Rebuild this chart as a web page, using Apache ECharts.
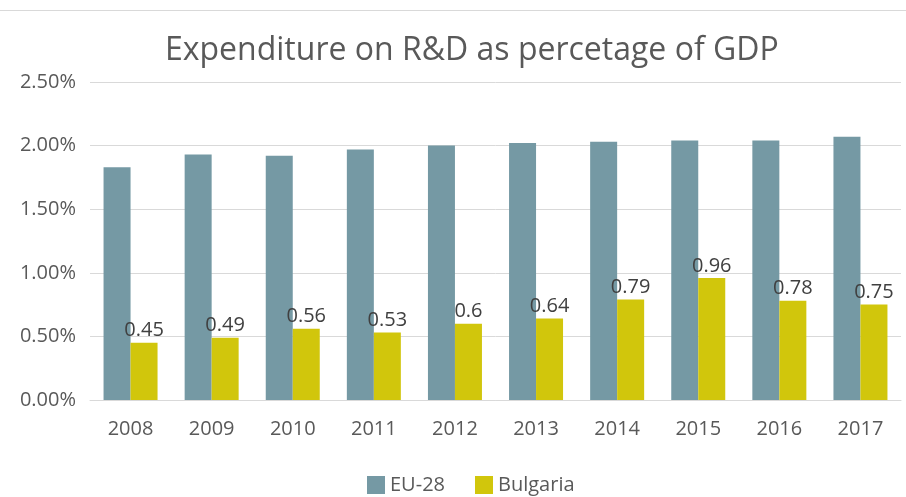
<!DOCTYPE html>
<html>
<head>
<meta charset="utf-8">
<script src="https://cdn.jsdelivr.net/npm/echarts@6/dist/echarts.min.js"></script>
<style>
html,body{margin:0;padding:0;background:#fff;}
#c{width:906px;height:497px;}
</style>
</head>
<body>
<div id="c"></div>
<script>
var years = ['2008','2009','2010','2011','2012','2013','2014','2015','2016','2017'];
var eu28 = [1.83, 1.93, 1.92, 1.97, 2.00, 2.02, 2.03, 2.04, 2.04, 2.07];
var bulgaria = [0.45, 0.49, 0.56, 0.53, 0.6, 0.64, 0.79, 0.96, 0.78, 0.75];
var titleText = 'Expenditure on R&D as percetage of GDP';

var chart = echarts.init(document.getElementById('c'));
var font = '"Open Sans", "Noto Sans", sans-serif';
chart.setOption({
  backgroundColor: '#ffffff',
  animation: false,
  title: {
    text: titleText,
    left: 160,
    top: 30,
    textStyle: { fontFamily: font, fontSize: 32, fontWeight: 'normal', color: '#595959' }
  },
  graphic: [{
    type: 'line',
    shape: { x1: 0, y1: 10.5, x2: 906, y2: 10.5 },
    style: { stroke: '#d9d9d9', lineWidth: 1 }
  }],
  legend: {
    top: 470,
    left: 362,
    itemWidth: 18,
    itemHeight: 18,
    itemGap: 30,
    icon: 'rect',
    textStyle: { fontFamily: font, fontSize: 20, color: '#595959' },
    data: ['EU-28', 'Bulgaria']
  },
  grid: { left: 90, right: 5, top: 82, bottom: 97 },
  xAxis: {
    type: 'category',
    data: years,
    axisLine: { lineStyle: { color: '#d9d9d9' } },
    axisTick: { show: false },
    axisLabel: { fontFamily: font, fontSize: 20, color: '#595959', margin: 19 }
  },
  yAxis: {
    type: 'value',
    min: 0,
    max: 2.5,
    interval: 0.5,
    axisLine: { show: false },
    axisTick: { show: false },
    splitLine: { lineStyle: { color: '#d9d9d9' } },
    axisLabel: {
      fontFamily: font, fontSize: 20, color: '#595959', margin: 14,
      formatter: function (v) { return v.toFixed(2) + '%'; }
    }
  },
  series: [
    {
      name: 'EU-28', type: 'bar', data: eu28,
      barWidth: 27, barGap: '0%',
      itemStyle: { color: '#7599a4' }
    },
    {
      name: 'Bulgaria', type: 'bar', data: bulgaria,
      barWidth: 27, barGap: '0%',
      itemStyle: { color: '#d1c60c' },
      label: {
        show: true, position: 'top', distance: 2,
        fontFamily: font, fontSize: 20, color: '#404040'
      }
    }
  ]
});
</script>
</body>
</html>
